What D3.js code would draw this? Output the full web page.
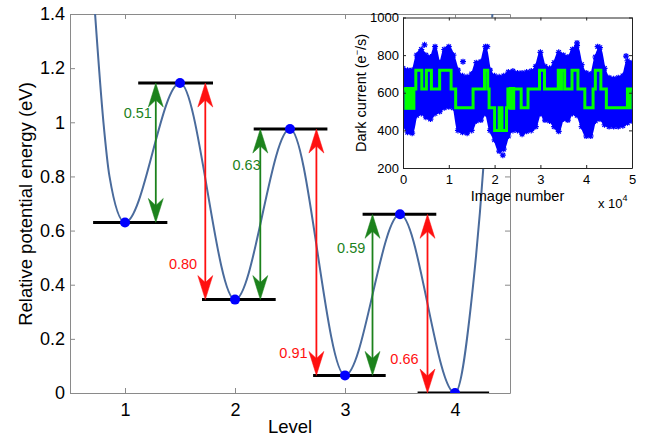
<!DOCTYPE html>
<html><head><meta charset="utf-8">
<script src="https://cdn.jsdelivr.net/npm/d3@7"></script>
<style>
body{margin:0;background:#fff;}
svg{display:block;font-family:"Liberation Sans",Arial,sans-serif;}
</style></head><body>
<svg id="c" width="657" height="440"></svg>
<script>
// ---------- main chart data ----------
const levelTicks = [1, 2, 3, 4];
const energyTicks = [0, 0.2, 0.4, 0.6, 0.8, 1, 1.2, 1.4];
const curveLevel  = [0.728, 0.804, 0.859, 1, 1.5, 2, 2.5, 3, 3.5, 4, 4.165, 4.256, 4.34];
const curveEnergy = [1.4, 1.0, 0.8, 0.63, 1.145, 0.345, 0.975, 0.065, 0.66, 0, 0.4, 0.824, 1.4];
const extremaLevel  = [1, 1.5, 2, 2.5, 3, 3.5, 4];
const extremaEnergy = [0.63, 1.145, 0.345, 0.975, 0.065, 0.66, 0];
const stateLineStart = [0.71, 1.12, 1.70, 2.17, 2.71, 3.16, 3.66];
const stateLineEnd   = [1.385, 1.80, 2.37, 2.84, 3.37, 3.83, 4.31];
const arrowLevel = [1.28, 1.73, 2.23, 2.74, 3.25, 3.75];
const arrowFrom  = [0.63, 1.145, 0.345, 0.975, 0.065, 0.66];
const arrowTo    = [1.145, 0.345, 0.975, 0.065, 0.66, 0];
const arrowLabel = ["0.51", "0.80", "0.63", "0.91", "0.59", "0.66"];
const arrowKind  = ["g", "r", "g", "r", "g", "r"];
const labelLevel  = [1.245, 1.656, 2.234, 2.66, 3.185, 3.669];
const labelEnergy = [1.034, 0.476, 0.842, 0.149, 0.537, 0.128];

// ---------- inset data ----------
const insetXTicks = [0, 1, 2, 3, 4, 5];
const insetYTicks = [200, 400, 600, 800, 1000];
const envX = [0,0.1,0.2,0.3,0.4,0.5,0.6,0.7,0.8,0.9,1.0,1.1,1.2,1.3,1.4,1.5,1.6,1.7,1.8,1.9,2.0,2.1,2.2,2.3,2.4,2.5,2.6,2.7,2.8,2.9,3.0,3.1,3.2,3.3,3.4,3.5,3.6,3.7,3.8,3.9,4.0,4.1,4.2,4.3,4.4,4.5,4.6,4.7,4.8,4.9,5.0];
const envUpper = [730,720,720,800,830,800,790,845,760,830,845,800,720,690,685,700,760,765,845,720,690,685,690,710,715,705,705,710,715,740,815,740,730,760,815,800,790,830,850,750,705,700,790,840,730,680,675,680,690,770,760];
const envLower = [440,390,385,480,490,470,460,490,500,520,525,520,400,390,395,400,450,455,490,400,350,290,300,370,400,400,380,395,400,420,490,455,450,420,395,460,455,490,480,420,370,370,450,460,430,420,420,420,425,440,450];
const outlierX = [0.47, 1.31, 1.40, 1.84, 2.18, 3.80, 4.25, 4.87];
const outlierY = [855, 765, 385, 845, 268, 865, 845, 795];
const stepX     = [0, 0.28, 0.41, 0.51, 0.62, 0.80, 1.05, 1.15, 1.53, 1.78, 1.85, 1.88, 2.00, 2.10, 2.16, 2.26, 2.29, 2.45, 2.58, 2.73, 2.98, 3.09, 3.39, 3.43, 3.46, 3.53, 3.69, 3.82, 3.97, 4.15, 4.20, 4.32, 4.44, 4.90, 4.93, 4.96, 5.0];
const stepLevel = [620, 720, 620, 720, 620, 720, 620, 520, 620, 720, 620, 520, 400, 520, 400, 520, 620, 620, 520, 620, 720, 620, 720, 620, 720, 620, 720, 620, 520, 620, 720, 620, 520, 620, 520, 620, 620];
const blockStart = [0.03, 2.31];
const blockEnd   = [0.27, 2.45];
const blockLow   = [520, 520];
const blockHigh  = [620, 620];

const svg = d3.select("#c");
const GREEN = "#1c821c", RED = "#ff1010", CURVE = "#4a6b9c", AXIS = "#8a8a8a";

// ---------- main axes ----------
const x = d3.scaleLinear().domain([0.5, 4.5]).range([70, 510]);
const y = d3.scaleLinear().domain([0, 1.4]).range([393, 14]);

const main = svg.append("g");
main.append("defs").append("clipPath").attr("id", "mclip")
  .append("rect").attr("x", 70).attr("y", 14).attr("width", 440).attr("height", 379);

function styleAxis(g, col) {
  g.selectAll(".domain").attr("stroke", col).attr("stroke-width", 1);
  g.selectAll(".tick line").attr("stroke", col);
}
const gxb = main.append("g").attr("transform", "translate(0,393)")
  .call(d3.axisBottom(x).tickValues(levelTicks).tickSizeInner(-5).tickSizeOuter(0).tickPadding(10).tickFormat(d3.format("d")));
const gxt = main.append("g").attr("transform", "translate(0,14)")
  .call(d3.axisTop(x).tickValues(levelTicks).tickSizeInner(-5).tickSizeOuter(0).tickFormat(""));
const gyl = main.append("g").attr("transform", "translate(70,0)")
  .call(d3.axisLeft(y).tickValues(energyTicks).tickSizeInner(-5).tickSizeOuter(0).tickPadding(5).tickFormat(d => d3.format("~g")(d)));
const gyr = main.append("g").attr("transform", "translate(510,0)")
  .call(d3.axisRight(y).tickValues(energyTicks).tickSizeInner(-5).tickSizeOuter(0).tickFormat(""));
[gxb, gxt, gyl, gyr].forEach(g => styleAxis(g, AXIS));
[gxb, gyl].forEach(g => g.selectAll("text").attr("font-size", 18).attr("fill", "#000").attr("font-family", "Liberation Sans, Arial, sans-serif"));

main.append("text").attr("x", x(2.5)).attr("y", 433).attr("text-anchor", "middle")
  .attr("font-size", 18.5).text("Level");
main.append("text").attr("transform", "translate(32,204) rotate(-90)").attr("text-anchor", "middle")
  .attr("font-size", 18.5).text("Relative potential energy (eV)");

const plot = main.append("g").attr("clip-path", "url(#mclip)");
const curvePts = curveLevel.map((l, i) => [l, curveEnergy[i]]);
plot.append("path").datum(curvePts)
  .attr("d", d3.line().x(d => x(d[0])).y(d => y(d[1])).curve(d3.curveMonotoneX))
  .attr("fill", "none").attr("stroke", CURVE).attr("stroke-width", 2);

// state lines
extremaEnergy.forEach((e, i) => {
  plot.append("line").attr("x1", x(stateLineStart[i])).attr("x2", x(stateLineEnd[i]))
    .attr("y1", y(e)).attr("y2", y(e)).attr("stroke", "#000").attr("stroke-width", 3);
});

// arrows
function head(px, py, dir, col) {
  // dir = -1 pointing up, +1 pointing down
  const L = 24, W = 7.5, N = 17;
  const p = `M${px},${py} L${px + W},${py - dir * L} L${px},${py - dir * N} L${px - W},${py - dir * L} Z`;
  plot.append("path").attr("d", p).attr("fill", col).attr("stroke", col).attr("stroke-width", 0.5);
}
arrowLevel.forEach((l, i) => {
  const col = arrowKind[i] === "g" ? GREEN : RED;
  const px = x(l), y1 = y(arrowFrom[i]), y2 = y(arrowTo[i]);
  const d2 = y2 < y1 ? -1 : 1;
  plot.append("line").attr("x1", px).attr("x2", px).attr("y1", y1 + d2 * 10).attr("y2", y2 - d2 * 10)
    .attr("stroke", col).attr("stroke-width", 1.8);
  head(px, y2, d2, col);
  head(px, y1, -d2, col);
  main.append("text").attr("x", x(labelLevel[i])).attr("y", y(labelEnergy[i])).attr("dy", "0.36em")
    .attr("text-anchor", "end").attr("font-size", 14.5).attr("fill", col).text(arrowLabel[i]);
});

// extrema dots
extremaLevel.forEach((l, i) => {
  plot.append("circle").attr("cx", x(l)).attr("cy", y(extremaEnergy[i])).attr("r", 5).attr("fill", "#0000ff");
});

// ---------- inset ----------
const ix = d3.scaleLinear().domain([0, 5]).range([403, 632]);
const iy = d3.scaleLinear().domain([200, 1000]).range([168, 17.5]);
const ins = svg.append("g");
ins.append("rect").attr("x", 403).attr("y", 17.5).attr("width", 229).attr("height", 150.5).attr("fill", "#fff");
ins.append("defs").append("clipPath").attr("id", "iclip")
  .append("rect").attr("x", 403).attr("y", 17.5).attr("width", 229).attr("height", 150.5);
const ip = ins.append("g").attr("clip-path", "url(#iclip)");

const env = envX.map((v, i) => [v, envLower[i], envUpper[i]]);
ip.append("path").datum(env)
  .attr("d", d3.area().x(d => ix(d[0])).y0(d => iy(d[1])).y1(d => iy(d[2])).curve(d3.curveMonotoneX))
  .attr("fill", "#0000ff").attr("stroke", "#0000ff").attr("stroke-width", 2);
const star = "M-3,0H3M0,-3V3M-2.2,-2.2L2.2,2.2M-2.2,2.2L2.2,-2.2";
const starPts = env.flatMap(d => [[d[0], d[1]], [d[0], d[2]]]).concat(outlierX.map((v, i) => [v, outlierY[i]]));
ip.selectAll("path.star").data(starPts).enter().append("path").attr("class", "star")
  .attr("transform", d => `translate(${ix(d[0])},${iy(d[1])})`).attr("d", star)
  .attr("stroke", "#0000ff").attr("stroke-width", 1.2).attr("fill", "none");

blockStart.forEach((s, i) => {
  ip.append("rect").attr("x", ix(s)).attr("width", ix(blockEnd[i]) - ix(s))
    .attr("y", iy(blockHigh[i]) - 2).attr("height", iy(blockLow[i]) - iy(blockHigh[i]) + 4).attr("fill", "#00ff00");
});
const steps = stepX.map((v, i) => [v, stepLevel[i]]);
ip.append("path").datum(steps)
  .attr("d", d3.line().x(d => ix(d[0])).y(d => iy(d[1])).curve(d3.curveStepAfter))
  .attr("fill", "none").attr("stroke", "#00ff00").attr("stroke-width", 3);

const IAX = "#222";
const ixb = ins.append("g").attr("transform", "translate(0,168)")
  .call(d3.axisBottom(ix).tickValues(insetXTicks).tickSizeInner(-3).tickSizeOuter(0).tickPadding(7).tickFormat(d3.format("d")));
const ixt = ins.append("g").attr("transform", "translate(0,17.5)")
  .call(d3.axisTop(ix).tickValues(insetXTicks).tickSizeInner(-3).tickSizeOuter(0).tickFormat(""));
const iyl = ins.append("g").attr("transform", "translate(403,0)")
  .call(d3.axisLeft(iy).tickValues(insetYTicks).tickSizeInner(-3).tickSizeOuter(0).tickPadding(4).tickFormat(d3.format("d")));
const iyr = ins.append("g").attr("transform", "translate(632,0)")
  .call(d3.axisRight(iy).tickValues(insetYTicks).tickSizeInner(-3).tickSizeOuter(0).tickFormat(""));
[ixb, ixt, iyl, iyr].forEach(g => styleAxis(g, IAX));
[ixb, iyl].forEach(g => g.selectAll("text").attr("font-size", 13).attr("fill", "#000").attr("font-family", "Liberation Sans, Arial, sans-serif"));

ins.append("text").attr("x", 517.5).attr("y", 201).attr("text-anchor", "middle").attr("font-size", 14.5).text("Image number");
const xt = ins.append("text").attr("x", 598).attr("y", 208).attr("font-size", 13);
xt.append("tspan").text("x 10");
xt.append("tspan").attr("dy", -7).attr("font-size", 9).text("4");
const yl = ins.append("text").attr("transform", "translate(366,93) rotate(-90)").attr("text-anchor", "middle").attr("font-size", 14.5);
yl.append("tspan").text("Dark current (e");
yl.append("tspan").attr("dy", -6).attr("font-size", 9).text("−");
yl.append("tspan").attr("dy", 6).text("/s)");
</script>
</body></html>
